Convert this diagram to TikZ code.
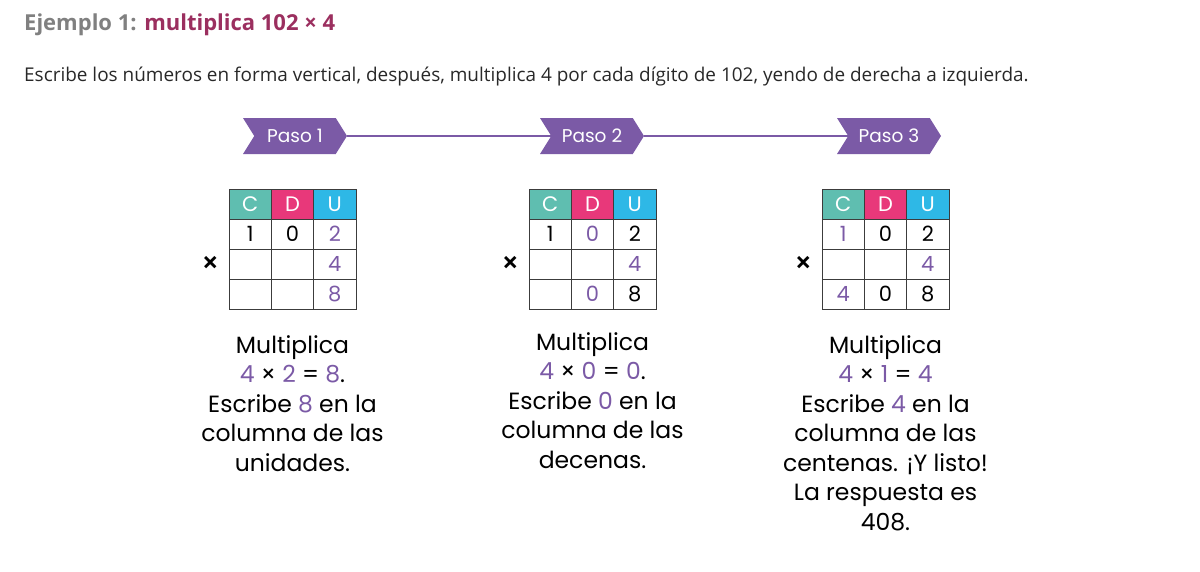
\documentclass[tikz,border=0pt]{standalone}
\usepackage{fontspec}
\setmainfont{Open Sans}
\newfontfamily\handfont{Poppins}
\usetikzlibrary{positioning}
\usetikzlibrary{shapes.symbols}
\definecolor{pasoviolet}{RGB}{123, 90, 166}
\definecolor{colC}{RGB}{95, 190, 176}
\definecolor{colD}{RGB}{232, 56, 122}
\definecolor{colU}{RGB}{46, 184, 230}
\definecolor{titlegray}{RGB}{128, 128, 128}
\definecolor{titlered}{RGB}{155, 47, 95}
\definecolor{gridgray}{RGB}{60, 60, 60}
\definecolor{textgray}{RGB}{40, 40, 40}
\newcommand{\vio}[1]{\textcolor{pasoviolet}{#1}}
\tikzset{
  pasobox/.style={signal, signal from=west, signal to=east, signal pointer angle=116,
    fill=pasoviolet, text=white, minimum width=104pt, minimum height=36pt, inner sep=0pt,
    font=\handfont\fontsize{18.5}{20}\selectfont},
  pasoline/.style={draw=pasoviolet, line width=1.5pt},
  headcell/.style={draw=gridgray, line width=0.8pt, minimum width=42.33pt, minimum height=30pt,
    inner sep=0pt, text=white, font=\handfont\fontsize{21}{24}\selectfont},
  cell/.style={draw=gridgray, line width=0.8pt, minimum width=42.33pt, minimum height=30pt, inner sep=0pt},
  digit/.style={inner sep=0pt, font=\handfont\fontsize{21}{24}\selectfont},
  timesmark/.style={inner sep=0pt, font=\bfseries\fontsize{28}{30}\selectfont},
  stepnote/.style={align=center, inner sep=0pt, font=\handfont\fontsize{23.5}{29.5}\selectfont}
}
\begin{document}
\begin{tikzpicture}[x=1pt, y=-1pt]
\useasboundingbox (0,0) rectangle (1200,571);
% heading
\node (title) [anchor=base west, inner sep=0pt, font=\bfseries\fontsize{22}{26}\selectfont]
  at (24, 30) {\textcolor{titlegray}{Ejemplo 1:} \textcolor{titlered}{multiplica 102 × 4}};
\node (intro) [anchor=base west, inner sep=0pt, text=textgray, font=\fontsize{18.95}{22}\selectfont]
  at (24, 81) {Escribe los números en forma vertical, después, multiplica 4 por cada dígito de 102, yendo de derecha a izquierda.};
% steps
\node (paso1) [pasobox] at (295, 136) {Paso 1};
\node (paso2) [pasobox] at (592, 136) {Paso 2};
\node (paso3) [pasobox] at (889, 136) {Paso 3};
\draw [pasoline] (paso1.east) -- (paso2.west);
\draw [pasoline] (paso2.east) -- (paso3.west);
% tables
\foreach \t/\lx in {1/229, 2/529, 3/822} {
  \foreach \c/\lab/\col in {1/C/colC, 2/D/colD, 3/U/colU}
    \node (t\t h\c) [headcell, fill=\col] at (\lx+42.33*\c-21.17, 204) {\lab};
  \foreach \r in {1,2,3}
    \foreach \c in {1,2,3}
      \node (t\t r\r c\c) [cell] at (\lx+42.33*\c-21.17, 204+30*\r) {};
  \node (t\t x) [timesmark, left=10pt of t\t r2c1] {×};
}
\foreach \t/\r/\c/\d/\col in {1/1/1/1/black, 1/1/2/0/black, 1/1/3/2/pasoviolet,
    1/2/3/4/pasoviolet, 1/3/3/8/pasoviolet,
    2/1/1/1/black, 2/1/2/0/pasoviolet, 2/1/3/2/black,
    2/2/3/4/pasoviolet, 2/3/2/0/pasoviolet, 2/3/3/8/black,
    3/1/1/1/pasoviolet, 3/1/2/0/black, 3/1/3/2/black,
    3/2/3/4/pasoviolet, 3/3/1/4/pasoviolet, 3/3/2/0/black, 3/3/3/8/black}
  \node (d\t\r\c) [digit, text=\col] at (t\t r\r c\c) {\d};
% notes
\node (note1) [stepnote, below=26pt of t1r3c2]
  {Multiplica\\ \vio{4} × \vio{2} = \vio{8}.\\ Escribe \vio{8} en la\\ columna de las\\ unidades.};
\node (note2) [stepnote, below=23pt of t2r3c2]
  {Multiplica\\ \vio{4} × \vio{0} = \vio{0}.\\ Escribe \vio{0} en la\\ columna de las\\ decenas.};
\node (note3) [stepnote, below=26pt of t3r3c2]
  {Multiplica\\ \vio{4} × \vio{1} = \vio{4}\\ Escribe \vio{4} en la\\ columna de las\\ centenas. ¡Y listo!\\ La respuesta es\\ 408.};
\end{tikzpicture}
\end{document}
